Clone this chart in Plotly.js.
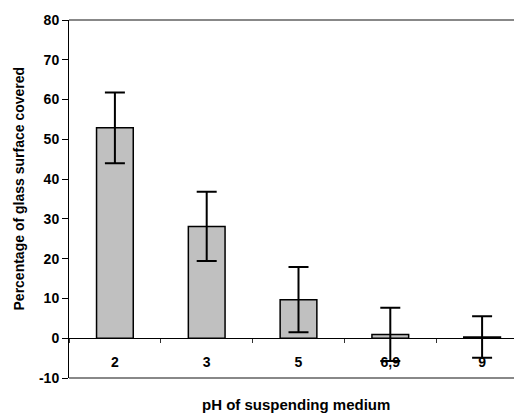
<!DOCTYPE html>
<html>
<head>
<meta charset="utf-8">
<script src="https://cdn.plot.ly/plotly-3.0.1.min.js"></script>
<style>
html, body { margin:0; padding:0; overflow:hidden; background:#fff; }
#chart { width:528px; height:414px; }
</style>
</head>
<body>
<div id="chart"></div>
<script>
const categories = ["2", "3", "5", "6,9", "9"];
const values = [52.9, 28.1, 9.7, 0.95, 0.3];
const errors = [8.9, 8.7, 8.2, 6.7, 5.2];
const yTicks = [-10, 0, 10, 20, 30, 40, 50, 60, 70, 80];
const xTitle = 'pH of suspending medium';
const yTitle = 'Percentage of glass surface covered';

const fontFam = '"Liberation Sans", Arial, sans-serif';
const boldFont = (s) => ({ family: fontFam, size: s, color: '#000', weight: 'bold' });

const trace = {
  type: 'bar',
  x: categories,
  y: values,
  width: 0.4,
  marker: { color: '#c0c0c0', line: { color: '#000', width: 1.5 } },
  error_y: { type: 'data', array: errors, visible: true, color: '#000', thickness: 2, width: 10 },
  hoverinfo: 'none'
};

const layout = {
  width: 528, height: 414,
  margin: { l: 69, r: 0, t: 20, b: 36 },
  paper_bgcolor: '#fff', plot_bgcolor: '#fff',
  showlegend: false,
  font: boldFont(14),
  xaxis: {
    type: 'category',
    range: [-0.5, 4.5],
    anchor: 'free',
    position: 10 / 90,
    showline: true, linecolor: '#000', linewidth: 1,
    ticks: 'outside', tickson: 'boundaries', ticklen: 4, tickcolor: '#333', tickwidth: 1,
    showgrid: false, zeroline: false,
    tickfont: boldFont(14),
    ticklabelstandoff: 11
  },
  yaxis: {
    range: [-10, 80],
    tickvals: yTicks,
    ticktext: yTicks.map(String),
    showline: true, linecolor: '#000', linewidth: 1,
    ticks: 'outside', ticklen: 6, tickcolor: '#000',
    showgrid: false, zeroline: false,
    tickfont: boldFont(14)
  },
  annotations: [
    { text: xTitle, xref: 'paper', yref: 'paper', x: 0.4946, y: -0.0754, xanchor: 'center', yanchor: 'middle', showarrow: false, font: boldFont(15) },
    { text: yTitle, xref: 'paper', yref: 'paper', x: -0.110, y: 0.528, xanchor: 'center', yanchor: 'middle', textangle: -90, showarrow: false, font: boldFont(14) }
  ],
  shapes: [
    { type: 'line', xref: 'paper', yref: 'paper', x0: 0, x1: 1, y0: 1, y1: 1, line: { color: '#888', width: 2 } },
    { type: 'line', xref: 'paper', yref: 'paper', x0: 0, x1: 1, y0: 0, y1: 0, line: { color: '#888', width: 2 } }
  ]
};

Plotly.newPlot('chart', [trace], layout, { displayModeBar: false, staticPlot: true });
</script>
</body>
</html>
